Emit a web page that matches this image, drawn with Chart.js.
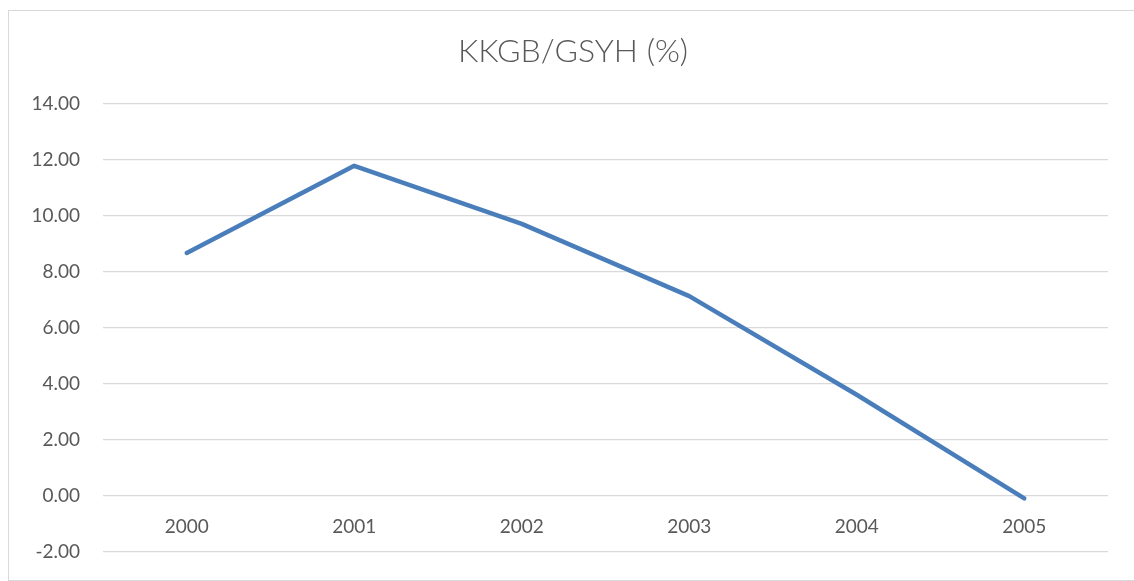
<!DOCTYPE html>
<html>
<head>
<meta charset="utf-8">
<script src="https://cdn.jsdelivr.net/npm/chart.js@4"></script>
<style>
  html, body { margin: 0; padding: 0; background: #fff; overflow: hidden; }
  #frame { position: absolute; left: 8px; top: 10px; width: 1140px; height: 569px; border: 1px solid #d9d9d9; }
  #wrap { position: absolute; left: 0; top: 0; width: 1146px; height: 586px; }
</style>
</head>
<body>
<div id="frame"></div>
<div id="wrap"><canvas id="chart"></canvas></div>
<script>
// --- chart data ---
const years = ['2000', '2001', '2002', '2003', '2004', '2005'];
const kkgbValues = [8.66, 11.77, 9.70, 7.12, 3.60, -0.10];
const yTicks = [-2, 0, 2, 4, 6, 8, 10, 12, 14];

const textColor = '#595959';
const gridColor = '#d9d9d9';

new Chart(document.getElementById('chart'), {
  type: 'line',
  data: {
    labels: years,
    datasets: [{
      label: 'KKGB/GSYH (%)',
      data: kkgbValues,
      borderColor: '#4a7ebb',
      borderWidth: 4.5,
      borderCapStyle: 'round',
      borderJoinStyle: 'round',
      tension: 0,
      pointRadius: 0,
      fill: false
    }]
  },
  options: {
    responsive: true,
    maintainAspectRatio: false,
    animation: false,
    layout: { padding: { left: 8, right: 8, top: 0, bottom: 20 } },
    plugins: {
      legend: { display: false },
      tooltip: { enabled: false },
      title: {
        display: true,
        text: 'KKGB/GSYH (%)',
        color: textColor,
        font: { family: 'Lato', size: 32, weight: '300', lineHeight: 1.2 },
        padding: { top: 32, bottom: 33 }
      }
    },
    scales: {
      x: {
        position: { y: 0 },
        offset: true,
        grid: { display: false, drawTicks: false },
        border: { display: false },
        ticks: {
          color: textColor,
          font: { family: 'Lato', size: 19 },
          padding: 20,
          maxRotation: 0
        }
      },
      y: {
        min: yTicks[0],
        max: yTicks[yTicks.length - 1],
        afterBuildTicks: scale => { scale.ticks = yTicks.map(v => ({ value: v })); },
        afterFit: scale => { scale.width = 95; },
        grid: { color: gridColor, lineWidth: 1.3, drawTicks: false },
        border: { display: false },
        ticks: {
          color: textColor,
          font: { family: 'Lato', size: 19 },
          padding: 23,
          callback: v => v.toFixed(2)
        }
      },
      // empty right-hand spacer so the title centres over the whole frame
      ySpacer: {
        type: 'linear',
        position: 'right',
        afterFit: scale => { scale.width = 30; },
        grid: { display: false },
        border: { display: false },
        ticks: { display: false }
      }
    }
  }
});
</script>
</body>
</html>
